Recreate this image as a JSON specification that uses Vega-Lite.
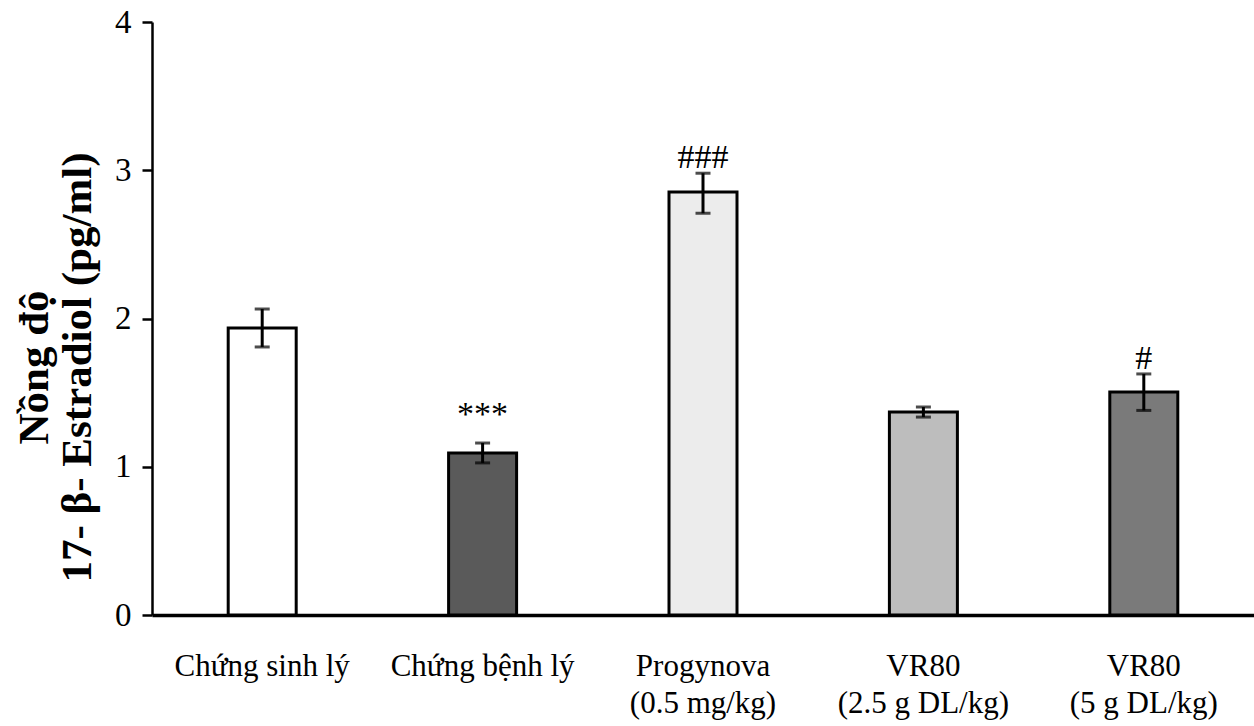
{
  "$schema": "https://vega.github.io/schema/vega-lite/v6.json",
  "width": 1102,
  "height": 593,
  "autosize": {"type": "none"},
  "padding": {"left": 152, "top": 22, "right": 0, "bottom": 111},
  "background": "white",
  "config": {
    "view": {"stroke": null},
    "font": "Liberation Serif",
    "axis": {"grid": false, "domainColor": "black", "tickColor": "black", "labelColor": "black", "titleColor": "black", "labelFont": "Liberation Serif", "titleFont": "Liberation Serif"}
  },
  "data": {
    "values": [
      {"group": "Chứng sinh lý", "mean": 1.936, "lo": 1.808, "hi": 2.064, "sig": ""},
      {"group": "Chứng bệnh lý", "mean": 1.093, "lo": 1.026, "hi": 1.160, "sig": "***"},
      {"group": "Progynova\n(0.5 mg/kg)", "mean": 2.853, "lo": 2.71, "hi": 2.98, "sig": "###"},
      {"group": "VR80\n(2.5 g DL/kg)", "mean": 1.369, "lo": 1.335, "hi": 1.403, "sig": ""},
      {"group": "VR80\n(5 g DL/kg)", "mean": 1.504, "lo": 1.38, "hi": 1.626, "sig": "#"}
    ]
  },
  "encoding": {
    "x": {
      "field": "group", "type": "nominal", "sort": null,
      "scale": {"paddingInner": 0, "paddingOuter": 0},
      "axis": {
        "title": null, "labelAngle": 0, "ticks": false, "domainWidth": 3.5,
        "labelFontSize": 31, "labelPadding": 36, "labelLineHeight": 37,
        "labelBaseline": "top", "labelLimit": 400, "labelOverlap": false,
        "labelExpr": "split(datum.label, '\\n')"
      }
    }
  },
  "layer": [
    {
      "mark": {"type": "bar", "width": 68, "stroke": "black", "strokeWidth": 3},
      "encoding": {
        "y": {
          "field": "mean", "type": "quantitative",
          "scale": {"domain": [0, 4], "nice": false},
          "axis": {
            "values": [0, 1, 2, 3, 4], "format": "d", "domainWidth": 2.5, "tickWidth": 2.5, "tickSize": 10,
            "labelFontSize": 33, "labelPadding": 11,
            "title": ["Nồng độ", "17- β- Estradiol (pg/ml)"],
            "titleFontSize": 43, "titleFontWeight": "bold", "titleLineHeight": 43,
            "titleBaseline": "top", "titleX": -139, "titleY": 345, "titleAlign": "center"
          }
        },
        "fill": {
          "field": "group", "type": "nominal", "legend": null,
          "scale": {
            "domain": ["Chứng sinh lý", "Chứng bệnh lý", "Progynova\n(0.5 mg/kg)", "VR80\n(2.5 g DL/kg)", "VR80\n(5 g DL/kg)"],
            "range": ["#ffffff", "#5a5a5a", "#ececec", "#bdbdbd", "#7a7a7a"]
          }
        }
      }
    },
    {
      "mark": {"type": "rule", "color": "black", "strokeWidth": 3},
      "encoding": {
        "y": {"field": "lo", "type": "quantitative"},
        "y2": {"field": "hi"}
      }
    },
    {
      "mark": {"type": "tick", "color": "black", "thickness": 3, "size": 15},
      "encoding": {"y": {"field": "lo", "type": "quantitative"}}
    },
    {
      "mark": {"type": "tick", "color": "black", "thickness": 3, "size": 15},
      "encoding": {"y": {"field": "hi", "type": "quantitative"}}
    },
    {
      "transform": [{"filter": "datum.sig == '***'"}],
      "mark": {"type": "text", "fontSize": 34, "baseline": "alphabetic", "dy": -18, "color": "black"},
      "encoding": {"y": {"field": "hi", "type": "quantitative"}, "text": {"field": "sig"}}
    },
    {
      "transform": [{"filter": "indexof(datum.sig, '#') >= 0"}],
      "mark": {"type": "text", "fontSize": 34, "baseline": "alphabetic", "dy": -5, "color": "black"},
      "encoding": {"y": {"field": "hi", "type": "quantitative"}, "text": {"field": "sig"}}
    }
  ]
}
